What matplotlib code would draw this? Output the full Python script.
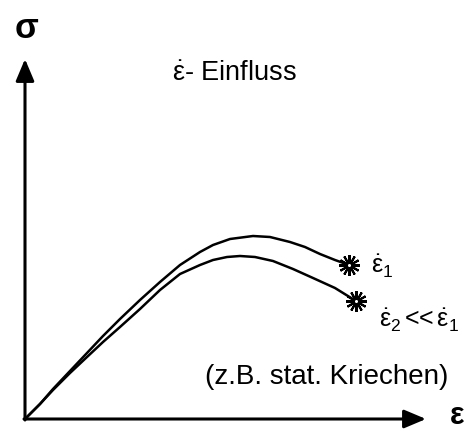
import matplotlib
matplotlib.use("Agg")
import matplotlib.pyplot as plt

plt.rcParams["font.family"] = ["Liberation Sans", "DejaVu Sans"]
plt.rcParams["mathtext.fontset"] = "custom"
plt.rcParams["mathtext.rm"] = "Liberation Sans"
plt.rcParams["mathtext.it"] = "Liberation Sans"
plt.rcParams["mathtext.bf"] = "Liberation Sans:bold"

# stress-strain curves for two strain rates (schematic units)
strain_fast = [0, 15, 28, 45, 62, 78, 95, 115, 135, 155, 175, 188, 205, 228, 245, 265, 280, 295, 310, 324]
stress_fast = [0, 15, 30, 48, 66, 83, 100, 119, 137, 154, 167, 174, 180, 183, 182, 177, 172, 165, 159, 154]

strain_slow = [0, 15, 28, 45, 62, 78, 95, 115, 135, 155, 175, 188, 202, 215, 230, 248, 268, 288, 310, 331]
stress_slow = [0, 15, 29, 46, 62, 77, 92, 110, 129, 145, 154, 159, 162, 163, 162, 158, 150, 141, 131, 118]

rate_labels = [r"$\dot{\varepsilon}_{1}$", r"$\dot{\varepsilon}_{2}\,$<<$\,\dot{\varepsilon}_{1}$"]

fig = plt.figure(figsize=(4.68, 4.30), dpi=100)
ax = fig.add_axes([0, 0, 1, 1])
ax.set_xlim(-25, 443)
ax.set_ylim(-11, 419)
ax.axis("off")

# axes with arrow heads
arrow = dict(arrowstyle="-|>,head_length=0.95,head_width=0.4", lw=2.2,
             color="black", shrinkA=0, shrinkB=0, mutation_scale=14)
ax.annotate("", xy=(0, 360), xytext=(0, -1), arrowprops=arrow)
ax.annotate("", xy=(401, 0), xytext=(-1, 0), arrowprops=arrow)
ax.text(1.5, 391, "σ", fontsize=25, fontweight="bold", ha="center", va="center")
ax.text(432, 3, "ε", fontsize=22, fontweight="bold", ha="center", va="center")

for sx, sy in [(strain_fast, stress_fast), (strain_slow, stress_slow)]:
    ax.plot(sx, sy, color="black", lw=1.8, solid_capstyle="round")
    ax.plot(sx[-1], sy[-1], marker=(12, 2, 0), markersize=15, mew=1.5,
            color="black")
    ax.plot(sx[-1], sy[-1], marker="o", markersize=2.2, color="white", mew=0)

ax.text(346, 153, rate_labels[0], fontsize=18, ha="left", va="center")
ax.text(354, 99, rate_labels[1], fontsize=18, ha="left", va="center")

ax.text(147, 345, r"$\dot{\varepsilon}$- Einfluss", fontsize=19.5, ha="left", va="center")
ax.text(423, 42, "(z.B. stat. Kriechen)", fontsize=20, ha="right", va="center")

fig.savefig("out.png", dpi=100)
